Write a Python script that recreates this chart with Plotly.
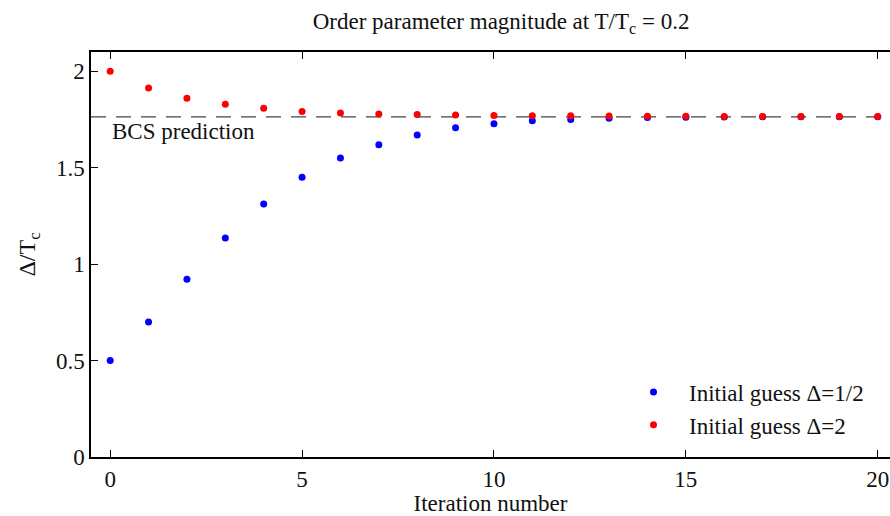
import plotly.graph_objects as go

# Gap-equation iterations at T/Tc = 0.2
iterations = list(range(21))
delta_from_half = [0.50, 0.70, 0.922, 1.135, 1.312, 1.451, 1.551, 1.619, 1.669, 1.707,
                   1.728, 1.743, 1.750, 1.757, 1.760, 1.762, 1.763, 1.764, 1.764, 1.764, 1.764]
delta_from_two = [2.00, 1.913, 1.860, 1.829, 1.808, 1.792, 1.784, 1.779, 1.776, 1.773,
                  1.771, 1.770, 1.769, 1.768, 1.767, 1.767, 1.766, 1.766, 1.766, 1.766, 1.766]
bcs_value = 1.764

FONT = "'Liberation Serif', 'Times New Roman', Times, 'DejaVu Serif', serif"
INK = "#111111"

fig = go.Figure()
fig.add_trace(go.Scatter(x=iterations, y=delta_from_half, mode="markers",
                         marker=dict(color="#0000ff", size=7),
                         name="Initial guess \u0394=1/2"))
fig.add_trace(go.Scatter(x=iterations, y=delta_from_two, mode="markers",
                         marker=dict(color="#ff0000", size=7),
                         name="Initial guess \u0394=2"))

fig.add_shape(type="line", xref="paper", x0=0, x1=1, yref="y", y0=bcs_value, y1=bcs_value,
              line=dict(color="#444444", width=1.3, dash="15px,10px"), layer="below")
fig.add_annotation(x=0, y=bcs_value, xref="x", yref="y", text="BCS prediction",
                   showarrow=False, xanchor="left", yanchor="top", yshift=0,
                   font=dict(family=FONT, size=23, color=INK))

axis_common = dict(showline=True, linecolor="black", linewidth=1.5, ticks="inside",
                   ticklen=7, tickcolor="black", tickwidth=1.2, showgrid=False,
                   zeroline=False, tickfont=dict(family=FONT, size=23, color=INK))

fig.update_layout(
    width=890, height=516,
    margin=dict(l=91, r=0, t=52, b=59),
    paper_bgcolor="white", plot_bgcolor="white",
    font=dict(family=FONT, color=INK),
    title=dict(text="Order parameter magnitude at T/T<sub>c</sub> = 0.2",
               x=0.563, xanchor="center", y=0.975, yanchor="top",
               font=dict(family=FONT, size=23, color=INK)),
    xaxis=dict(range=[-0.5, 20.32], tickvals=[0, 5, 10, 15, 20], mirror="ticks",
               ticklabelstandoff=1,
               title=dict(text="Iteration number", standoff=0,
                          font=dict(family=FONT, size=23, color=INK)),
               **axis_common),
    yaxis=dict(range=[0, 2.1], tickvals=[0, 0.5, 1, 1.5, 2],
               ticktext=["0", "0.5", "1", "1.5", "2"],
               title=dict(text="\u0394/T<sub>c</sub>", standoff=14,
                          font=dict(family=FONT, size=24, color=INK)),
               **axis_common),
    legend=dict(x=0.6596, xanchor="left", y=0.026, yanchor="bottom",
                bgcolor="rgba(0,0,0,0)", borderwidth=0, itemwidth=61,
                font=dict(family=FONT, size=23, color=INK),
                tracegroupgap=0),
    showlegend=True,
)

fig.write_html("out.html")
